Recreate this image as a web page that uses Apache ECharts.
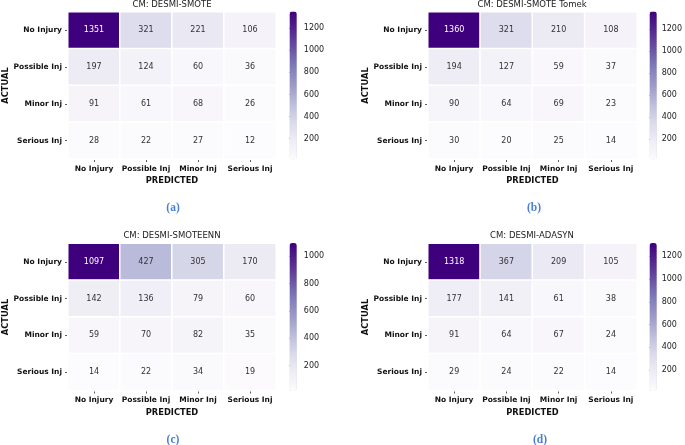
<!DOCTYPE html>
<html>
<head>
<meta charset="utf-8">
<script src="https://cdn.jsdelivr.net/npm/echarts@6/dist/echarts.min.js"></script>
<style>
html,body{margin:0;padding:0;background:#fff;}
#chart{width:685px;height:445px;}
</style>
</head>
<body>
<div id="chart"></div>
<script>
// ---- data ----
var classLabels = ['No Injury', 'Possible Inj', 'Minor Inj', 'Serious Inj'];
var titles = ['CM: DESMI-SMOTE', 'CM: DESMI-SMOTE Tomek', 'CM: DESMI-SMOTEENN', 'CM: DESMI-ADASYN'];
var captions = ['(a)', '(b)', '(c)', '(d)'];
var cmSmote = [[1351, 321, 221, 106], [197, 124, 60, 36], [91, 61, 68, 26], [28, 22, 27, 12]];
var cmSmoteTomek = [[1360, 321, 210, 108], [194, 127, 59, 37], [90, 64, 69, 23], [30, 20, 25, 14]];
var cmSmoteenn = [[1097, 427, 305, 170], [142, 136, 79, 60], [59, 70, 82, 35], [14, 22, 34, 19]];
var cmAdasyn = [[1318, 367, 209, 105], [177, 141, 61, 38], [91, 64, 67, 24], [29, 24, 22, 14]];
var cbTicksA = [200, 400, 600, 800, 1000, 1200];
var cbTicksB = [200, 400, 600, 800, 1000, 1200];
var cbTicksC = [200, 400, 600, 800, 1000];
var cbTicksD = [200, 400, 600, 800, 1000, 1200];

var matrices = [cmSmote, cmSmoteTomek, cmSmoteenn, cmAdasyn];
var cbTicks = [cbTicksA, cbTicksB, cbTicksC, cbTicksD];

// ---- layout ----
var purples = ['#fcfbfd', '#efedf5', '#dadaeb', '#bcbddc', '#9e9ac8', '#807dba', '#6a51a3', '#54278f', '#3f007d'];
var panels = [
  {left: 68, top: 12, w: 208, h: 147, cbLeft: 289.5, tx: 172, ty: 5, cx: 173, cy: 208},
  {left: 428, top: 12, w: 209, h: 147, cbLeft: 649.5, tx: 532, ty: 5, cx: 534, cy: 208},
  {left: 68, top: 243.5, w: 208, h: 147, cbLeft: 289.5, tx: 172, ty: 236, cx: 173, cy: 440},
  {left: 428, top: 243.5, w: 209, h: 147, cbLeft: 649.5, tx: 532, ty: 236, cx: 540, cy: 440}
];

var grids = [], xAxes = [], yAxes = [], series = [], visualMaps = [], graphics = [];
var labelFont = 'DejaVu Sans';

panels.forEach(function (p, i) {
  var m = matrices[i];
  var vals = [].concat.apply([], m);
  var vmin = Math.min.apply(null, vals), vmax = Math.max.apply(null, vals);
  var data = [];
  m.forEach(function (row, r) {
    row.forEach(function (v, c) {
      var t = (v - vmin) / (vmax - vmin);
      data.push({value: [c, r, v], label: {color: t > 0.62 ? '#ffffff' : '#333333'}});
    });
  });
  // heatmap grid
  grids.push({left: p.left, top: p.top, width: p.w, height: p.h});
  var gi = grids.length - 1;
  xAxes.push({
    type: 'category', gridIndex: gi, data: classLabels, position: 'bottom',
    axisLine: {show: false}, splitArea: {show: false},
    axisTick: {show: true, alignWithLabel: true, length: 3, lineStyle: {color: '#333', width: 0.8}},
    axisLabel: {fontFamily: labelFont, fontWeight: 'bold', fontSize: 7.5, color: '#111', margin: 6, interval: 0},
    name: 'PREDICTED', nameLocation: 'middle', nameGap: 18,
    nameTextStyle: {fontFamily: labelFont, fontWeight: 'bold', fontSize: 8.3, color: '#111'}
  });
  yAxes.push({
    type: 'category', gridIndex: gi, data: classLabels, inverse: true,
    axisLine: {show: false}, splitArea: {show: false},
    axisTick: {show: true, alignWithLabel: true, length: 3, lineStyle: {color: '#333', width: 0.8}},
    axisLabel: {fontFamily: labelFont, fontWeight: 'bold', fontSize: 7.5, color: '#111', margin: 6, interval: 0},
    name: 'ACTUAL', nameLocation: 'middle', nameGap: 58, nameRotate: 90,
    nameTextStyle: {fontFamily: labelFont, fontWeight: 'bold', fontSize: 8.3, color: '#111'}
  });
  series.push({
    type: 'heatmap', xAxisIndex: gi, yAxisIndex: gi, data: data,
    label: {show: true, fontFamily: labelFont, fontSize: 8},
    itemStyle: {borderColor: '#ffffff', borderWidth: 1.5},
    emphasis: {disabled: true}
  });
  visualMaps.push({
    type: 'continuous', seriesIndex: i, min: vmin, max: vmax,
    inRange: {color: purples}, calculable: false, hoverLink: false,
    left: p.cbLeft, top: p.top - 0.5, itemWidth: 7.3, itemHeight: p.h + 1, padding: 0,
    text: null, showLabel: false, realtime: false
  });
  // colorbar axis
  grids.push({left: p.cbLeft, top: p.top - 0.5, width: 7.3, height: p.h + 1});
  var ci = grids.length - 1;
  xAxes.push({type: 'value', gridIndex: ci, show: false});
  yAxes.push({
    type: 'value', gridIndex: ci, position: 'right', min: vmin, max: vmax,
    axisLine: {show: false}, splitLine: {show: false},
    axisTick: {show: true, length: 2.5, customValues: cbTicks[i], lineStyle: {color: '#333', width: 0.8}},
    axisLabel: {customValues: cbTicks[i], fontFamily: labelFont, fontSize: 8, color: '#222', margin: 7,
      formatter: function (v) { return String(v); }}
  });
  graphics.push({
    type: 'text', x: p.tx, y: p.ty,
    style: {text: titles[i], font: '8.5px "DejaVu Sans"', fill: '#222', align: 'center', verticalAlign: 'middle'}
  });
  graphics.push({
    type: 'text', x: p.cx, y: p.cy,
    style: {text: captions[i], font: 'bold 11.5px "Liberation Serif"', fill: '#4a7fd6', align: 'center', verticalAlign: 'middle'}
  });
});

var chart = echarts.init(document.getElementById('chart'), null, {renderer: 'canvas'});
chart.setOption({
  animation: false,
  backgroundColor: '#ffffff',
  grid: grids, xAxis: xAxes, yAxis: yAxes,
  visualMap: visualMaps, series: series, graphic: graphics
});
</script>
</body>
</html>
